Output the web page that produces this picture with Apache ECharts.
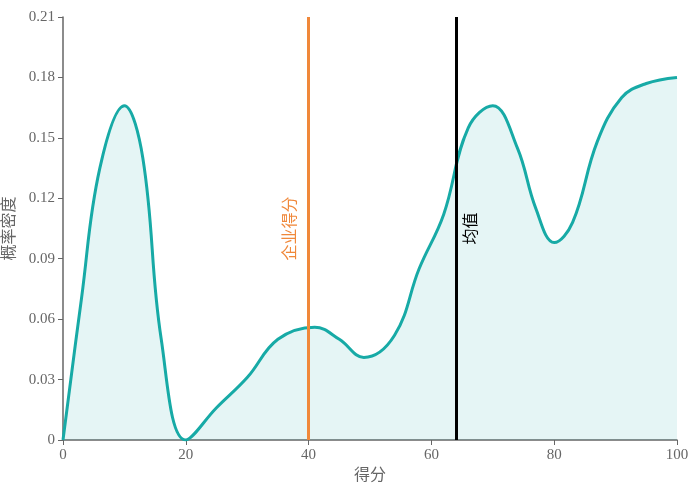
<!DOCTYPE html>
<html>
<head>
<meta charset="utf-8">
<script src="https://cdn.jsdelivr.net/npm/echarts@6/dist/echarts.min.js"></script>
<style>html,body{margin:0;padding:0;background:#fff}#main{width:695px;height:501px}</style>
</head>
<body>
<div id="main"></div>
<script>
var xs = [0, 3, 6, 10, 13, 16, 20, 25, 30, 35, 41, 45, 49, 54, 58, 62, 66, 70, 74, 77, 80, 83, 87, 91, 95, 100];
var ys = [0, 0.07, 0.135, 0.166, 0.14, 0.05, 0, 0.016, 0.031, 0.05, 0.056, 0.05, 0.041, 0.052, 0.085, 0.112, 0.155, 0.166, 0.145, 0.115, 0.098, 0.108, 0.148, 0.17, 0.177, 0.18];
var companyScore = 40;
var meanScore = 64;

var font = 'Liberation Serif, Noto Sans CJK SC, serif';
var pts = xs.map(function (x, i) { return [x, ys[i]]; });

var chart = echarts.init(document.getElementById('main'));
chart.setOption({
	textStyle: {fontFamily: font},
	grid: {left: 63, right: 18, top: 17, bottom: 61, outerBoundsMode: 'none', containLabel: false},
	xAxis: {
		type: 'value', min: 0, max: 100, interval: 20,
		name: '得分', nameLocation: 'middle', nameGap: 22,
		nameTextStyle: {color: '#666', fontSize: 16, fontFamily: font},
		axisLine: {lineStyle: {color: '#666', width: 1.5}},
		axisTick: {show: true, lineStyle: {color: '#666'}},
		axisLabel: {color: '#666', fontSize: 15, fontFamily: font},
		splitLine: {show: false}
	},
	yAxis: {
		type: 'value', min: 0, max: 0.21, interval: 0.03,
		name: '概率密度', nameLocation: 'middle', nameGap: 34,
		nameTextStyle: {color: '#666', fontSize: 16, fontFamily: font},
		axisLine: {show: true, lineStyle: {color: '#666', width: 1.5}},
		axisTick: {show: true, lineStyle: {color: '#666'}},
		axisLabel: {color: '#666', fontSize: 15, fontFamily: font,
			formatter: function (v) { return v === 0 ? '0' : v.toFixed(2); }},
		splitLine: {show: false}
	},
	series: [{
		type: 'line', data: pts, smooth: 0.4, symbol: 'none',
		lineStyle: {color: '#17aaa6', width: 3},
		areaStyle: {color: 'rgba(23,170,166,0.16)'},
		markLine: {
			silent: true, symbol: 'none', animation: false,
			data: [
				{xAxis: companyScore, lineStyle: {color: '#f0883a', width: 3, type: 'solid'},
				 label: {formatter: '企业得分', position: 'middle', color: '#f0883a', fontSize: 16, distance: [0, 10]}},
				{xAxis: meanScore, lineStyle: {color: '#000', width: 3, type: 'solid'},
				 label: {formatter: '均值', position: 'insideMiddleBottom', color: '#000', fontSize: 16, distance: [0, 8]}}
			]
		}
	}]
});
</script>
</body>
</html>
